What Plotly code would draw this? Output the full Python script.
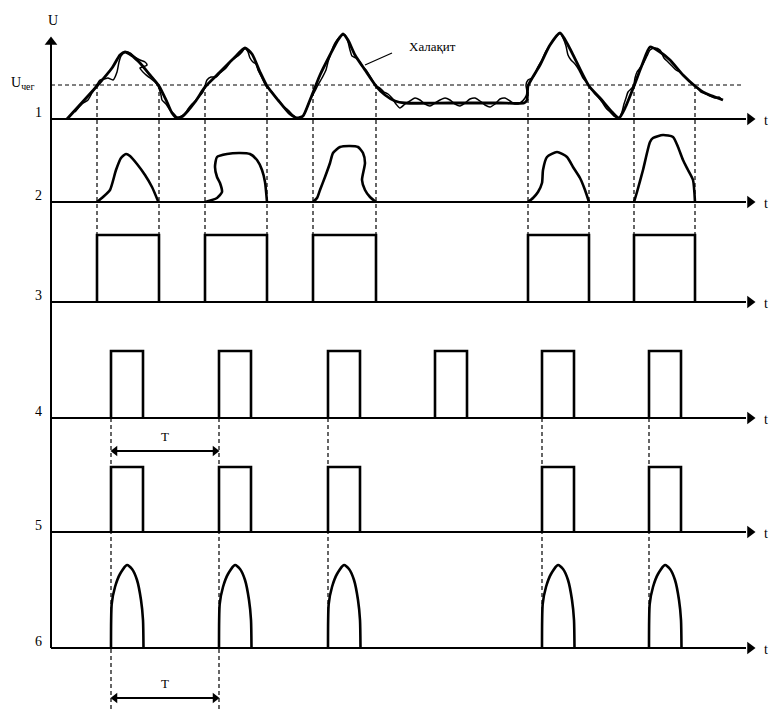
import plotly.graph_objects as go

# ---------------- data (time units along t, amplitude units up from each channel baseline) ----
BASE = [119, 202, 302, 418, 532, 648]          # baseline level of channels 1..6
CH_NAMES = ["1", "2", "3", "4", "5", "6"]
T_START, T_END = 51, 750
U_THR = 34                                      # threshold level U_чег on channel 1

# channel 1: useful signal envelope
env_t = [67, 97, 112, 120, 125, 131, 140, 150, 159, 167, 172, 177, 183, 195, 205, 220, 235, 245, 252, 260,
         267, 278, 290, 297, 303, 310, 320, 330, 338, 343, 348, 355, 365, 376, 385, 395, 405, 450, 500, 524,
         527, 528, 540, 550, 560, 568, 578, 589, 600, 612, 619, 625, 634, 642, 650, 660, 670, 683, 695, 705,
         715, 723]
env_u = [0, 33, 51, 64, 67, 64, 56, 44, 33, 17, 6, 1, 3, 17, 32, 47, 62, 71, 65, 47,
         33, 19, 5, 1, 3, 19, 44, 64, 79, 85, 79, 64, 49, 33, 24, 18, 16, 16, 16, 16,
         19, 33, 54, 74, 86, 74, 54, 33, 21, 7, 1, 11, 33, 54, 72, 67, 59, 44, 33, 26,
         22, 19]

# channel 1: signal with interference (Халақит)
noise_t = [75, 82, 88, 92, 96, 100, 104, 108, 113, 117, 119, 121, 125, 130, 135, 140, 145, 147, 143, 140,
           145, 150, 155, 158, 161, 162, 166, 170, 174, 177,
           182, 186, 188, 192, 197, 203, 207, 211, 216, 220, 226, 232, 238, 242, 245, 248, 250, 253, 256, 258,
           262, 266, 272, 276, 280, 283, 288, 293, 297,
           303, 306, 311, 315, 318, 322, 326, 328, 330, 333, 337, 341, 345, 348, 350, 352, 356, 360, 362, 366,
           371, 376, 380, 384, 388, 392, 396, 400,
           405, 410, 415, 420, 425, 430, 435, 440, 445, 450, 455, 460, 465, 470, 475, 480, 485, 490, 495, 500,
           505, 510, 515, 520, 525,
           527, 526, 528, 532, 535, 538, 542, 545, 548, 552, 556, 560, 563, 566, 568, 571, 575, 579, 583, 588,
           592, 595, 598, 602, 606, 610, 614, 619,
           622, 624, 626, 628, 632, 634, 635, 637, 640, 643, 647, 650, 655, 660, 664, 668, 672, 676, 680, 684,
           688, 692, 697, 701, 706, 710, 715, 719, 722]
noise_u = [7, 15, 19, 26, 33, 39, 40, 41, 39, 47, 57, 63, 67, 66, 62, 59, 57, 54, 52, 51,
           45, 41, 37, 33, 24, 19, 15, 9, 5, 2,
           3, 7, 10, 15, 20, 27, 39, 42, 42, 46, 51, 59, 63, 67, 71, 67, 61, 57, 55, 49,
           41, 33, 27, 21, 17, 13, 9, 4, 1,
           3, 9, 21, 28, 34, 41, 49, 57, 63, 72, 79, 83, 84, 77, 69, 63, 61, 57, 53, 49,
           41, 33, 31, 27, 25, 21, 15, 11,
           15, 18, 21, 19, 15, 13, 16, 19, 21, 19, 15, 13, 16, 20, 21, 18, 14, 12, 15, 20,
           21, 18, 15, 16, 21,
           27, 34, 39, 41, 45, 52, 59, 66, 71, 77, 82, 86, 81, 73, 64, 59, 55, 49, 41, 35,
           29, 25, 22, 17, 11, 7, 3, 1,
           7, 15, 21, 27, 31, 35, 41, 47, 51, 55, 63, 69, 71, 69, 61, 57, 53, 49, 47, 43,
           39, 35, 31, 27, 25, 23, 21, 22, 19]

# threshold crossings -> gates (channel 3)
gate_start = [97, 205, 313, 528, 634]
gate_end = [159, 267, 376, 589, 695]
gate_h = 67

# channel 2: signal fragments inside the gates
frag_t = [
    [97, 103, 110, 116, 121, 126, 130, 137, 145, 152, 158],
    [205, 217, 222, 220, 217, 215, 217, 227, 240, 250, 257, 262, 265, 267],
    [313, 317, 320, 325, 330, 333, 340, 350, 358, 363, 365, 362, 365, 370, 376],
    [528, 533, 538, 542, 543, 547, 557, 567, 573, 580, 585, 589],
    [634, 637, 643, 650, 653, 663, 673, 678, 683, 688, 693, 695],
]
frag_u = [
    [0, 5, 12, 32, 44, 48, 46, 38, 27, 15, 1],
    [0, 4, 10, 19, 25, 35, 45, 48, 49, 48, 42, 32, 20, 0],
    [0, 4, 12, 25, 39, 49, 55, 56, 55, 49, 39, 22, 12, 5, 0],
    [0, 4, 10, 19, 32, 45, 50, 45, 35, 24, 12, 0],
    [0, 10, 32, 60, 64, 67, 65, 55, 42, 32, 22, 0],
]

# channel 4: clock pulses, period T
clk_start = [111, 219, 328, 435, 542, 649]
clk_w = 32
clk_h = 67
# channel 5: selected pulses
sel_start = [111, 219, 328, 542, 649]
sel_h = 65
# channel 6: output pulse shape
out_dt = [0, 0.7, 4, 9, 16, 21, 26, 30, 32, 32.5]
out_u = [0, 44, 61, 74, 83, 79, 68, 48, 28, 0]

# period markers (level below channel 4 and below channel 6)
T_MARK_Y = [451, 698]

# ---------------- figure ----------------
BLACK = "#000000"
FONT = "Liberation Serif, Times New Roman, serif"
fig = go.Figure()


def add_line(xs, ys, width=2.6, dash=None, shape="linear", color=BLACK):
    fig.add_trace(go.Scatter(x=xs, y=ys, mode="lines", hoverinfo="skip",
                             line=dict(color=color, width=width, dash=dash, shape=shape,
                                       smoothing=0.6 if shape == "spline" else None)))


def add_markers(xs, ys, symbol, size=11):
    fig.add_trace(go.Scatter(x=xs, y=ys, mode="markers", hoverinfo="skip",
                             marker=dict(symbol=symbol, size=size, color=BLACK, line=dict(width=0))))


def Y(ch, vals):
    return [None if v is None else BASE[ch] - v for v in vals]


# axes: baselines with arrows, vertical axis
bx, by = [], []
for b in BASE:
    bx += [T_START, T_END - 4, None]
    by += [b, b, None]
add_line(bx, by, width=2)
add_line([T_START, T_START], [BASE[0] - 79, BASE[-1]], width=2)
add_markers([T_END] * len(BASE), BASE, "triangle-right")
add_markers([T_START], [BASE[0] - 77], "triangle-up")

# threshold line
add_line([T_START, 742], [BASE[0] - U_THR] * 2, width=1, dash="4px,3px")

# dashed verticals from threshold crossings down to gate tops
dx, dy = [], []
for t in gate_start + gate_end:
    dx += [t, t, None]
    dy += [BASE[0] - U_THR, BASE[2] - gate_h, None]
add_line(dx, dy, width=1.2, dash="4px,3px")

# dashed verticals from clock pulses downwards
dx, dy = [], []
for i, t in enumerate(sel_start):
    bottom = 711 if i < 2 else BASE[5]
    dx += [t, t, None]
    dy += [BASE[3], bottom, None]
add_line(dx, dy, width=1.2, dash="4px,3px")

# channel 1 signals
add_line(noise_t, Y(0, noise_u), width=1.5, shape="spline")
add_line(env_t, Y(0, env_u), width=2.8, shape="spline")

# channel 2 fragments
for ft, fu in zip(frag_t, frag_u):
    add_line(ft, Y(1, fu), width=2.6, shape="spline")

# channel 3 gates
gx, gy = [], []
for s, e in zip(gate_start, gate_end):
    gx += [s, s, e, e, None]
    gy += [BASE[2], BASE[2] - gate_h, BASE[2] - gate_h, BASE[2], None]
add_line(gx, gy, width=2.6)

# channel 4 clock pulses
cx, cy = [], []
for s in clk_start:
    cx += [s, s, s + clk_w, s + clk_w, None]
    cy += [BASE[3], BASE[3] - clk_h, BASE[3] - clk_h, BASE[3], None]
add_line(cx, cy, width=2.6)

# channel 5 selected pulses
cx, cy = [], []
for s in sel_start:
    cx += [s, s, s + clk_w, s + clk_w, None]
    cy += [BASE[4], BASE[4] - sel_h, BASE[4] - sel_h, BASE[4], None]
add_line(cx, cy, width=2.6)

# channel 6 output pulses
for s in sel_start:
    add_line([s + d for d in out_dt], Y(5, out_u), width=2.6, shape="spline")

# leader line for the interference label
add_line([365, 392], [BASE[0] - 54, BASE[0] - 66], width=1.2)

# period T double arrows
for yT in T_MARK_Y:
    add_line([sel_start[0] + 4, sel_start[1] - 4], [yT, yT], width=1.8)
    add_markers([sel_start[0] + 4], [yT], "triangle-left", size=9)
    add_markers([sel_start[1] - 4], [yT], "triangle-right", size=9)

ann = []
txt = dict(size=14, color=BLACK, family=FONT)
ann.append(dict(x=53, y=20, text="U", showarrow=False, font=txt))
ann.append(dict(x=22, y=BASE[0] - U_THR - 2, text="U<sub>чег</sub>", showarrow=False,
                font=dict(size=14, color=BLACK, family=FONT)))
ann.append(dict(x=432, y=46, text="Халақит", showarrow=False,
                font=dict(size=13, color=BLACK, family=FONT)))
for b, name in zip(BASE, CH_NAMES):
    ann.append(dict(x=38, y=b - 7, text=name, showarrow=False, font=txt))
    ann.append(dict(x=766, y=b + 1, text="t", showarrow=False, font=txt))
for yT in T_MARK_Y:
    ann.append(dict(x=(sel_start[0] + sel_start[1]) / 2, y=yT - 15, text="T", showarrow=False,
                    font=dict(size=13, color=BLACK, family=FONT)))

fig.update_layout(
    width=773, height=711, margin=dict(l=0, r=0, t=0, b=0),
    paper_bgcolor="white", plot_bgcolor="white", showlegend=False,
    xaxis=dict(range=[0, 773], visible=False, fixedrange=True),
    yaxis=dict(range=[711, 0], visible=False, fixedrange=True),
    annotations=ann,
)
fig.write_html("out.html", config={"displayModeBar": False},
               post_script="document.body.style.margin='0';document.body.style.overflow='hidden';")
